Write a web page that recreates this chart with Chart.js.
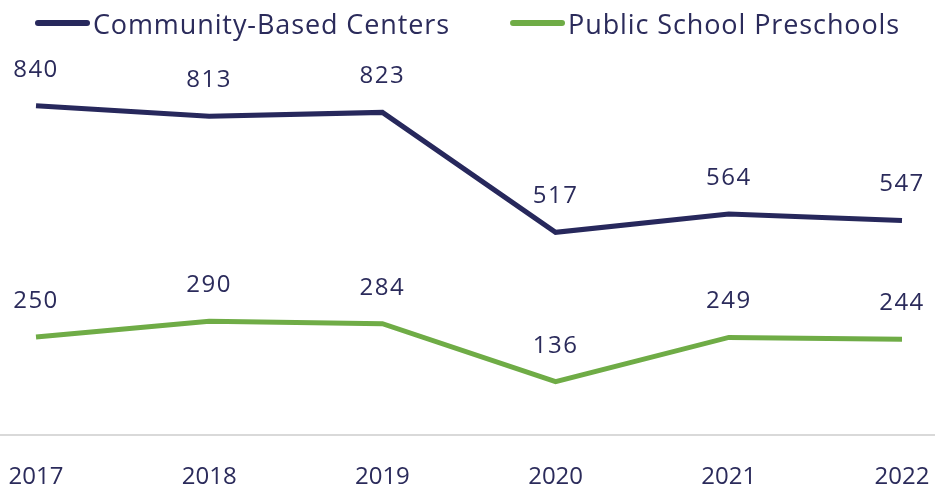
<!DOCTYPE html>
<html>
<head>
<meta charset="utf-8">
<script src="https://cdn.jsdelivr.net/npm/chart.js@4/dist/chart.umd.min.js"></script>
<style>
  html, body { margin: 0; padding: 0; background: #fff; }
  #wrap { position: relative; width: 935px; height: 489px; }
  #legend {
    position: absolute; top: 3px; left: 0; width: 935px; height: 40px;
    display: flex; justify-content: center; align-items: center; gap: 60px;
    font-family: "Open Sans", sans-serif; font-size: 27px; letter-spacing: 0.9px; color: #2b2b5b;
  }
  .item { display: flex; align-items: center; }
  .swatch { width: 55px; height: 6px; border-radius: 3px; margin-right: 3px; }
</style>
</head>
<body>
<div id="wrap">
  <canvas id="lineChart" width="935" height="489"></canvas>
  <div id="legend"></div>
</div>
<script>
const years = ['2017', '2018', '2019', '2020', '2021', '2022'];
const communityCenters = [840, 813, 823, 517, 564, 547];
const publicPreschools = [250, 290, 284, 136, 249, 244];
const seriesNames = ['Community-Based Centers', 'Public School Preschools'];
const seriesColors = ['#27285c', '#6fac46'];
const textColor = '#2b2b5b';

// value labels above each point
const pointLabels = {
    id: 'pointLabels',
    afterDatasetsDraw(chart) {
        const ctx = chart.ctx;
        ctx.save();
        ctx.font = '24px "Open Sans", sans-serif';
        ctx.letterSpacing = '1.5px';
        ctx.fillStyle = textColor;
        ctx.textAlign = 'center';
        ctx.textBaseline = 'middle';
        chart.data.datasets.forEach((ds, i) => {
            chart.getDatasetMeta(i).data.forEach((pt, j) => {
                ctx.fillText(ds.data[j], pt.x, pt.y - 36);
            });
        });
        ctx.restore();
    }
};

// grey zero line across the full width
const baseLine = {
    id: 'baseLine',
    beforeDatasetsDraw(chart) {
        const y = chart.scales.y.getPixelForValue(0);
        const ctx = chart.ctx;
        ctx.save();
        ctx.strokeStyle = '#d9d9d9';
        ctx.lineWidth = 2;
        ctx.beginPath();
        ctx.moveTo(0, y);
        ctx.lineTo(chart.width, y);
        ctx.stroke();
        ctx.restore();
    }
};

const chartEl = document.getElementById('lineChart');
new Chart(chartEl, {
    type: 'line',
    data: {
        labels: years,
        datasets: [
            { label: seriesNames[0], data: communityCenters, borderColor: seriesColors[0], borderWidth: 5, pointRadius: 0, tension: 0 },
            { label: seriesNames[1], data: publicPreschools, borderColor: seriesColors[1], borderWidth: 5, pointRadius: 0, tension: 0 }
        ]
    },
    options: {
        responsive: false,
        animation: false,
        layout: { padding: { top: 43, left: 36, right: 33, bottom: 0 } },
        plugins: { legend: { display: false }, tooltip: { enabled: false } },
        scales: {
            x: {
                grid: { display: false, drawTicks: false },
                border: { display: false },
                ticks: { color: textColor, padding: 28, maxRotation: 0, font: { family: '"Open Sans", sans-serif', size: 24 } },
                afterFit(scale) {
                    scale.height = 54;
                    scale.paddingLeft = 0;
                    scale.paddingRight = 0;
                }
            },
            y: { display: false, min: 0, max: 1000 }
        }
    },
    plugins: [pointLabels, baseLine]
});

const legendEl = document.getElementById('legend');
seriesNames.forEach((name, i) => {
    const item = document.createElement('div');
    item.className = 'item';
    item.innerHTML = '<span class="swatch" style="background:' + seriesColors[i] + '"></span><span>' + name + '</span>';
    legendEl.appendChild(item);
});
</script>
</body>
</html>
